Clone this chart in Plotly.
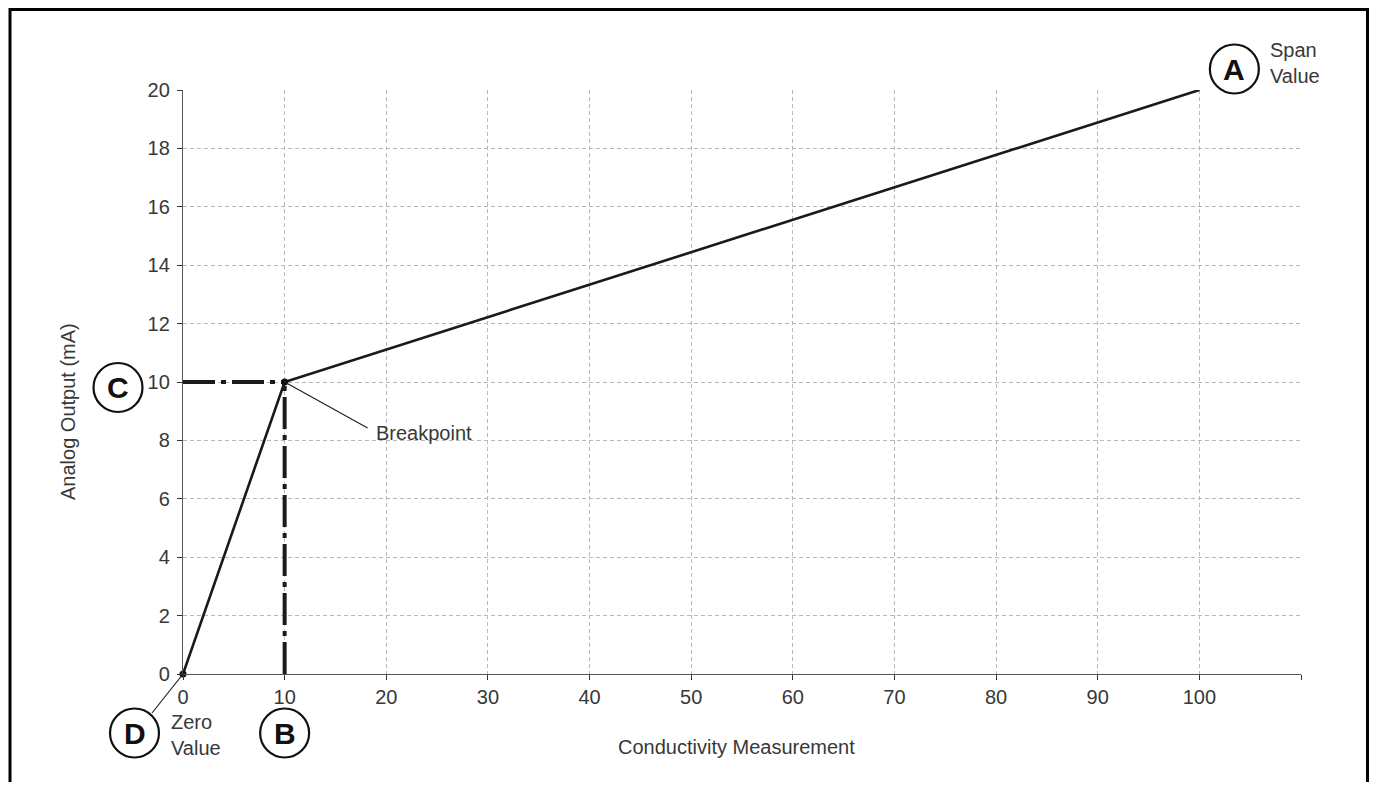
import plotly.graph_objects as go

# ---- data ----
conductivity = [0, 10, 100]          # Zero value, breakpoint, span value
output_ma = [0, 10, 20]              # analog output (mA)
breakpoint_x = 10
breakpoint_y = 10
x_ticks = [0, 10, 20, 30, 40, 50, 60, 70, 80, 90, 100, 110]
x_tick_labels = ["0", "10", "20", "30", "40", "50", "60", "70", "80", "90", "100", ""]
y_ticks = [0, 2, 4, 6, 8, 10, 12, 14, 16, 18, 20]
y_tick_labels = [str(v) for v in y_ticks]
X_MAX = 110
Y_MAX = 20

# callouts: letter, anchor point (data), pixel offset of circle center
callout_letters = ["A", "B", "C", "D"]
callout_anchor_x = [100, 10, 0, 0]
callout_anchor_y = [20, 0, 10, 0]
callout_dx = [35, 0, -65, -48.5]
callout_dy = [21, -59, -5.5, -59]
R = 24.5

# page has an 8px body margin: figure is sized/offset to compensate
OFF = 8
W, H = 1377 - OFF, 792 - 2 * OFF - 2
ML, MR, MT = 175, 76, 82
PH = 584
MB = H - MT - PH
PW = W - ML - MR


def px_to_paper_x(page_x):
    return (page_x - OFF - ML) / PW


def px_to_paper_y(page_y):
    return ((MT + PH) - (page_y - OFF)) / PH


FONT = "Liberation Sans, Arial, Helvetica, sans-serif"
TXT = "#383838"

fig = go.Figure()

# dash-dot reference lines to the breakpoint
fig.add_trace(go.Scatter(x=[0, breakpoint_x], y=[breakpoint_y, breakpoint_y], mode="lines",
                         line=dict(color="#1a1a1a", width=4, dash="32px,6px,5px,6px"),
                         cliponaxis=False, hoverinfo="skip", showlegend=False))
fig.add_trace(go.Scatter(x=[breakpoint_x, breakpoint_x], y=[0, breakpoint_y], mode="lines",
                         line=dict(color="#1a1a1a", width=4, dash="32px,6px,5px,6px"),
                         cliponaxis=False, hoverinfo="skip", showlegend=False))
# main response line
fig.add_trace(go.Scatter(x=conductivity, y=output_ma, mode="lines",
                         line=dict(color="#1a1a1a", width=2.6),
                         cliponaxis=False, showlegend=False))
# points: zero value and breakpoint
fig.add_trace(go.Scatter(x=[conductivity[0], breakpoint_x], y=[output_ma[0], breakpoint_y],
                         mode="markers", marker=dict(color="#111111", size=7),
                         cliponaxis=False, showlegend=False))

shapes = []
annotations = []
for letter, ax_, ay_, dx, dy in zip(callout_letters, callout_anchor_x, callout_anchor_y,
                                    callout_dx, callout_dy):
    shapes.append(dict(type="circle", xref="paper", yref="paper",
                       xsizemode="pixel", ysizemode="pixel",
                       xanchor=ax_ / X_MAX, yanchor=ay_ / Y_MAX,
                       x0=dx - R, x1=dx + R, y0=dy - R, y1=dy + R,
                       line=dict(color="#111111", width=2.2), layer="above"))
    annotations.append(dict(x=ax_, y=ay_, xref="x", yref="y", text=f"<b>{letter}</b>",
                            showarrow=False, xshift=dx, yshift=dy,
                            xanchor="center", yanchor="middle",
                            font=dict(family=FONT, size=30, color="#111111")))

# leader lines
shapes.append(dict(type="line", xref="paper", yref="paper", xsizemode="pixel", ysizemode="pixel",
                   xanchor=breakpoint_x / X_MAX, yanchor=breakpoint_y / Y_MAX,
                   x0=0, y0=0, x1=83, y1=-46, line=dict(color="#222222", width=1.2)))
shapes.append(dict(type="line", xref="paper", yref="paper", xsizemode="pixel", ysizemode="pixel",
                   xanchor=0, yanchor=0,
                   x0=0, y0=0, x1=-31, y1=-39, line=dict(color="#222222", width=1.2)))

# outer frame
shapes.append(dict(type="rect", xref="paper", yref="paper",
                   x0=px_to_paper_x(10), x1=px_to_paper_x(1367.5),
                   y0=px_to_paper_y(820), y1=px_to_paper_y(OFF + 1.5),
                   line=dict(color="#000000", width=3), layer="above"))

annotations += [
    dict(x=breakpoint_x, y=breakpoint_y, xref="x", yref="y", text="Breakpoint", showarrow=False,
         xanchor="left", yanchor="middle", xshift=89, yshift=-51,
         font=dict(family=FONT, size=20, color=TXT)),
    dict(x=0, y=0, xref="x", yref="y", text="Zero<br>Value", showarrow=False, align="left",
         xanchor="left", yanchor="middle", xshift=-14, yshift=-61,
         font=dict(family=FONT, size=20, color=TXT)),
    dict(x=100, y=20, xref="x", yref="y", text="Span<br>Value", showarrow=False, align="left",
         xanchor="left", yanchor="middle", xshift=69, yshift=27.5,
         font=dict(family=FONT, size=20, color=TXT)),
    dict(x=px_to_paper_x(736), y=px_to_paper_y(747), xref="paper", yref="paper",
         text="Conductivity Measurement", showarrow=False, xanchor="center", yanchor="middle",
         font=dict(family=FONT, size=20, color=TXT)),
    dict(x=px_to_paper_x(68), y=px_to_paper_y(412), xref="paper", yref="paper",
         text="Analog Output (mA)", showarrow=False, textangle=-90,
         xanchor="center", yanchor="middle",
         font=dict(family=FONT, size=20, color=TXT)),
]

axis_common = dict(showgrid=True, gridcolor="#b8b8b8", gridwidth=1, griddash="4px,3px",
                   showline=True, linecolor="#555555", linewidth=1.3,
                   ticks="outside", ticklen=5, tickcolor="#333333", tickwidth=1.2,
                   zeroline=False, tickfont=dict(family=FONT, size=20, color=TXT))

fig.update_layout(
    width=W, height=H,
    margin=dict(l=ML, r=MR, t=MT, b=MB),
    paper_bgcolor="white", plot_bgcolor="white",
    xaxis=dict(range=[0, X_MAX], tickvals=x_ticks, ticktext=x_tick_labels, **axis_common),
    yaxis=dict(range=[0, Y_MAX], tickvals=y_ticks, ticktext=y_tick_labels,
               ticklabelstandoff=3, **axis_common),
    shapes=shapes, annotations=annotations,
    showlegend=False,
)

fig.write_html("out.html")
